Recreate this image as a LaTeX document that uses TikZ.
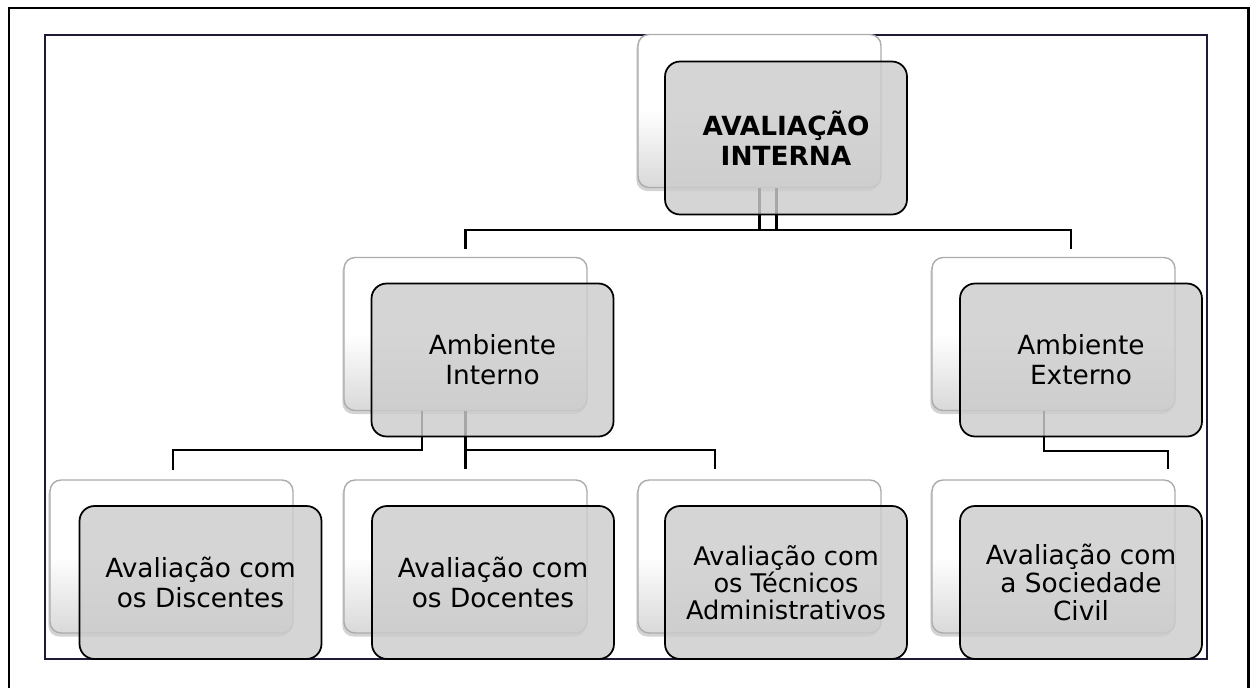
\documentclass[tikz,border=0pt]{standalone}
\usepackage{fontspec}
\setmainfont{DejaVu Sans}
\usetikzlibrary{shadows, calc}

\begin{document}
\begin{tikzpicture}[
    x=0.02cm, y=-0.02cm,
    backbox/.style={rectangle, draw=gray!65, line width=0.8pt, top color=white, bottom color=gray!30, middle color=white, minimum width=4.86cm, minimum height=3.06cm, rounded corners=0.22cm, drop shadow={shadow xshift=-1pt, shadow yshift=-2pt, opacity=0.35}},
    frontbox/.style={rectangle, draw=black, line width=1pt, fill=black!20, fill opacity=0.82, text opacity=1, minimum width=4.84cm, minimum height=3.06cm, rounded corners=0.3cm, align=center, font=\fontsize{15}{17}\selectfont},
    link/.style={draw=black, line width=1.2pt}
]
\useasboundingbox (0,0) rectangle (1250,687);

% Frames
\draw[line width=1.7pt] (9,690) -- (9,8) -- (1248,8) -- (1248,690);
\draw[line width=1.1pt, draw={rgb,255:red,30;green,26;blue,56}] (45,35) rectangle (1207,659);

% Back boxes
\node[backbox] (avintbk) at (759.5,111) {};
\node[backbox] (ambintbk) at (465.5,334) {};
\node[backbox] (ambextbk) at (1053.5,334) {};
\node[backbox] (discbk) at (171.5,556.5) {};
\node[backbox] (docbk) at (465.5,556.5) {};
\node[backbox] (tecbk) at (759.5,556.5) {};
\node[backbox] (socbk) at (1053.5,556.5) {};

% Connectors
\coordinate (ai) at ($(ambintbk.north)+(0,-8)$);
\coordinate (ae) at ($(ambextbk.north)+(17.5,-8)$);
\coordinate (di) at ($(discbk.north)+(1.5,-9)$);
\coordinate (dc) at ($(docbk.north)+(0,-10)$);
\coordinate (tc) at ($(tecbk.north)+(-44.5,-10)$);
\coordinate (sc) at ($(socbk.north)+(114.5,-10)$);

\draw[link] (avintbk.south) -- ++(0,42);
\draw[link] ($(avintbk.south)+(17,0)$) -- ++(0,42);
\draw[link] (ai) -- ++(0,-19) -| (ae);
\draw[link] ($(ambintbk.south)+(-43.5,0)$) -- ++(0,39) -| (di);
\draw[link] (ambintbk.south) -- (dc);
\draw[link] ($(ambintbk.south)+(0,39)$) -| (tc);
\draw[link] ($(ambextbk.south)+(-9.5,0)$) -- ++(0,40) -| (sc);

% Front boxes
\node[frontbox, font=\bfseries\fontsize{15}{17}\selectfont] (avint) at (786,138) {AVALIAÇÃO\\INTERNA};
\node[frontbox] (ambint) at (492.5,360) {Ambiente\\Interno};
\node[frontbox] (ambext) at (1081,360) {Ambiente\\Externo};
\node[frontbox] (disc) at (200.5,582.5) {Avaliação com\\os Discentes};
\node[frontbox] (doc) at (493,582.5) {Avaliação com\\os Docentes};
\node[frontbox, font=\fontsize{14.6}{15.5}\selectfont] (tec) at (786,582.5) {Avaliação com\\os Técnicos\\Administrativos};
\node[frontbox, font=\fontsize{15}{16}\selectfont] (soc) at (1081,582.5) {Avaliação com\\a Sociedade\\Civil};

\end{tikzpicture}
\end{document}
